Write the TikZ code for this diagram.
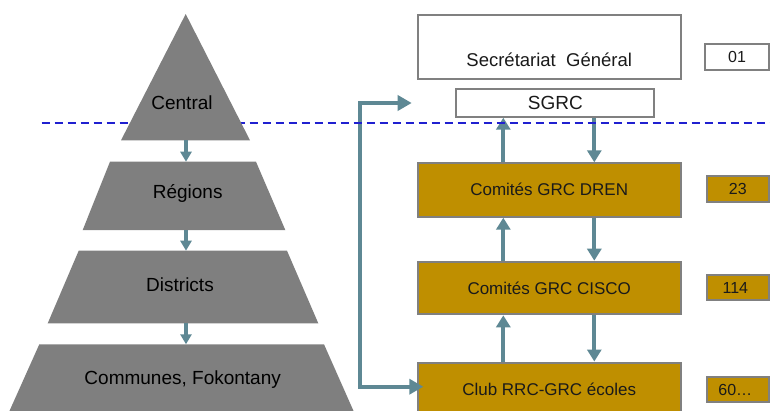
\documentclass[tikz,border=0pt]{standalone}
\usepackage{fontspec}
\setmainfont{Liberation Sans}
\usetikzlibrary{arrows.meta}
\definecolor{pyr}{HTML}{7F7F7F}
\definecolor{teal1}{HTML}{5E8894}
\definecolor{gold}{HTML}{BF8F00}
\definecolor{bord}{HTML}{808080}
\definecolor{dash1}{HTML}{2020D0}
\definecolor{txt}{HTML}{1A1A1A}
\begin{document}
\begin{tikzpicture}[x=1pt,y=-1pt,
  pyrshape/.style={fill=pyr,draw=none},
  pyrtext/.style={font=\fontsize{19}{21}\selectfont,text=black,inner sep=0pt},
  whitebox/.style={draw=bord,line width=2pt,fill=white,inner sep=0pt},
  goldbox/.style={draw=bord,line width=2pt,fill=gold,inner sep=0pt},
  goldtext/.style={font=\fontsize{17}{19}\selectfont,text=txt},
  numtext/.style={font=\fontsize{16}{18}\selectfont,text=txt},
  arr/.style={draw=teal1,line width=4pt,-{Triangle[length=12pt,width=14pt]}},
  sarr/.style={draw=teal1,line width=4pt,-{Triangle[length=10pt,width=11pt]}},
  darr/.style={draw=teal1,line width=4pt,{Triangle[length=14pt,width=15pt]}-{Triangle[length=14pt,width=15pt]}},
  dline/.style={draw=dash1,line width=1.5pt,dash pattern=on 8pt off 5pt}
]
\useasboundingbox (0,0) rectangle (770,410);

% right side boxes
\node[whitebox,minimum width=263pt,minimum height=63.7pt] (sg) at (549.2,46.85) {};
\node[font=\fontsize{18.5}{20}\selectfont,text=txt] (sgt) at ([yshift=-12.5pt]sg.center) {Secrétariat\ \ Général};
\node[whitebox,minimum width=198pt,minimum height=27.4pt,font=\fontsize{19}{21}\selectfont,text=txt] (sgrc) at (555.3,103) {SGRC};
\node[goldbox,minimum width=263pt,minimum height=53.4pt,goldtext] (dren) at (549.2,190) {\raisebox{2pt}{Comités GRC DREN}};
\node[goldbox,minimum width=263pt,minimum height=52.6pt,goldtext] (cisco) at (549.2,288) {Comités GRC CISCO};
\node[goldbox,minimum width=263pt,minimum height=53pt,goldtext] (club) at (549.2,389) {Club RRC-GRC écoles};

\node[whitebox,minimum width=64pt,minimum height=26.3pt,numtext] (n01) at (737,57.2) {01};
\node[goldbox,minimum width=62.3pt,minimum height=26pt,numtext] (n23) at (737.8,188.7) {23};
\node[goldbox,minimum width=62.3pt,minimum height=25pt,numtext] (n114) at (737.8,287.5) {\hspace*{-5pt}114};
\node[goldbox,minimum width=62.3pt,minimum height=25pt,numtext] (n60) at (737.8,389.8) {\hspace*{-5pt}60\ldots};

% vertical arrows between committee boxes
\coordinate (ux) at (503.3,0);
\coordinate (dx) at (594.3,0);
\draw[arr] (dren.north -| ux) -- (sgrc.south -| ux);
\draw[arr] (sgrc.south -| dx) -- (dren.north -| dx);
\draw[arr] (cisco.north -| ux) -- (dren.south -| ux);
\draw[arr] (dren.south -| dx) -- (cisco.north -| dx);
\draw[arr] (club.north -| ux) -- (cisco.south -| ux);
\draw[arr] (cisco.south -| dx) -- (club.north -| dx);

% left connector
\coordinate (ltip) at (411.7,103);
\coordinate (lcorner) at (360,386.7);
\coordinate (ctip) at (423.3,386.7);
\draw[darr] (ltip) -| (lcorner) -- (ctip);

% dashed line
\coordinate (dl) at (41.7,123);
\coordinate (dr) at (772,123);
\draw[dline] (dl) -- (dr);

% pyramid
\path[pyrshape] (185.7,14) -- (250,140.3) -- (121,140.3) -- cycle;
\path[pyrshape] (110,161.7) -- (256,161.7) -- (285.3,230) -- (82.7,230) -- cycle;
\path[pyrshape] (78.7,250.7) -- (287,250.7) -- (318.3,323.3) -- (47.7,323.3) -- cycle;
\path[pyrshape] (39.3,344.3) -- (324,344.3) -- (354,412) -- (9,412) -- cycle;

\node[pyrtext] (central) at (182,103) {Central};
\node[pyrtext] (regions) at (187.7,193) {Régions};
\node[pyrtext] (districts) at (180,285) {Districts};
\node[pyrtext] (communes) at (182.7,380) {Communes,\ Fokontany};

\coordinate (p1) at (186,140.3);
\coordinate (p2) at (186,161.7);
\coordinate (p3) at (186,230);
\coordinate (p4) at (186,250.7);
\coordinate (p5) at (186,323.3);
\coordinate (p6) at (186,344.3);
\draw[sarr] (p1) -- (p2);
\draw[sarr] (p3) -- (p4);
\draw[sarr] (p5) -- (p6);
\end{tikzpicture}
\end{document}
